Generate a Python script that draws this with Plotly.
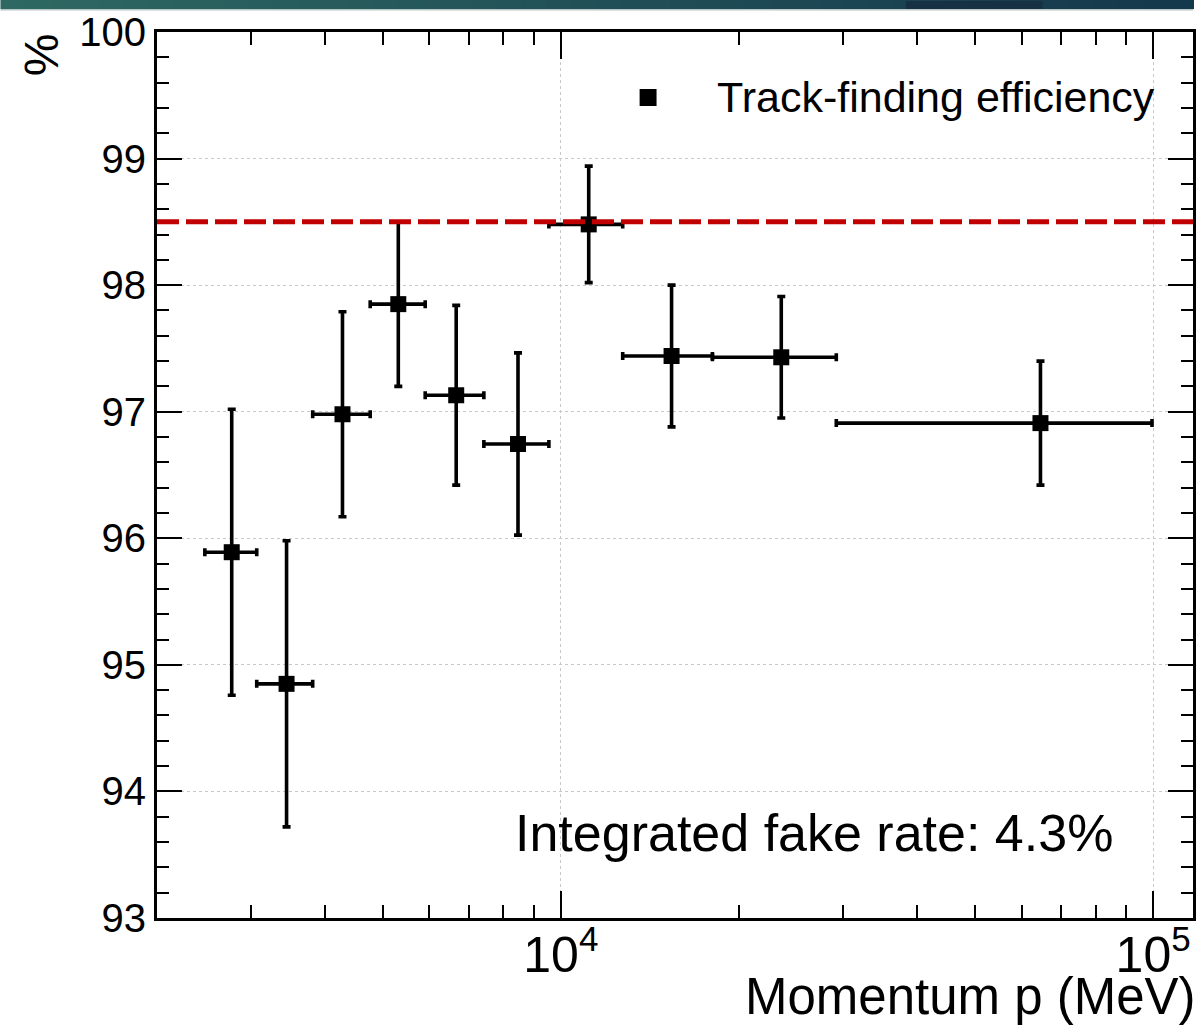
import plotly.graph_objects as go

# ---- data ----
momentum = [2782, 3443, 4279, 5316, 6658, 8466, 11145, 15380, 23560, 64530]
bin_low = [2506, 3066, 3811, 4766, 5902, 7414, 9546, 12719, 18028, 29178]
bin_high = [3066, 3811, 4766, 5902, 7414, 9546, 12719, 18028, 29178, 99560]
efficiency = [95.89, 94.85, 96.98, 97.85, 97.13, 96.745, 98.48, 97.44, 97.43, 96.91]
eff_err = [1.13, 1.13, 0.81, 0.65, 0.71, 0.72, 0.46, 0.56, 0.48, 0.49]
reference_level = 98.5
legend_label = "Track-finding efficiency"
note_text = "Integrated fake rate: 4.3%"
x_title = "Momentum p (MeV)"
y_title = "%"

FONT = "Liberation Sans, Arial, Helvetica, sans-serif"
W, H = 1196, 1027
ML, MR, MT, MB = 157, 0, 32, 109
PW, PH = W - ML - MR, H - MT - MB


def px_x(px):
    return (px - ML) / PW


def px_y(py):
    return (H - MB - py) / PH


err_minus = [m - lo for m, lo in zip(momentum, bin_low)]
err_plus = [hi - m for m, hi in zip(momentum, bin_high)]

fig = go.Figure()
fig.add_trace(go.Scatter(
    x=momentum, y=efficiency, mode="markers",
    marker=dict(symbol="square", size=16, color="black"),
    error_y=dict(type="data", array=eff_err, color="black", thickness=3.6, width=4),
    error_x=dict(type="data", array=err_plus, arrayminus=err_minus,
                 color="black", thickness=3.6, width=4),
    showlegend=False, cliponaxis=False,
))

shapes = []
# reference dashed line
shapes.append(dict(type="line", xref="paper", yref="y", x0=0, x1=1,
                   y0=reference_level, y1=reference_level,
                   line=dict(color="#c00000", width=5, dash="22px,7px"), layer="above"))

# top banner gradient (decoration)
n = 48
c0 = (46, 104, 98)
c1 = (20, 56, 76)
for i in range(n):
    t = i / (n - 1)
    col = tuple(int(round(a + (b - a) * t)) for a, b in zip(c0, c1))
    shapes.append(dict(type="rect", xref="paper", yref="paper",
                       x0=px_x(i * W / n), x1=px_x((i + 1) * W / n + 1),
                       y0=px_y(9), y1=px_y(0), line=dict(width=0),
                       fillcolor="rgb(%d,%d,%d)" % col, layer="above"))
shapes.append(dict(type="rect", xref="paper", yref="paper",
                   x0=px_x(908), x1=px_x(1045), y0=px_y(9), y1=px_y(1),
                   line=dict(width=0), fillcolor="rgb(22,50,66)", layer="above"))
shapes.append(dict(type="rect", xref="paper", yref="paper",
                   x0=px_x(0), x1=px_x(W), y0=px_y(10.5), y1=px_y(9),
                   line=dict(width=0), fillcolor="#b9c6c6", layer="above"))

# legend marker
shapes.append(dict(type="rect", xref="paper", yref="paper",
                   x0=px_x(641), x1=px_x(658), y0=px_y(106), y1=px_y(89),
                   line=dict(width=0), fillcolor="black"))

annotations = [
    dict(text=legend_label, xref="paper", yref="paper", x=px_x(717), y=px_y(97),
         xanchor="left", yanchor="middle", showarrow=False,
         font=dict(family=FONT, size=43, color="black")),
    dict(text=note_text, xref="paper", yref="paper", x=px_x(514), y=px_y(833),
         xanchor="left", yanchor="middle", showarrow=False,
         font=dict(family=FONT, size=52, color="black")),
    dict(text=x_title, xref="paper", yref="paper", x=px_x(745), y=px_y(997),
         xanchor="left", yanchor="middle", showarrow=False,
         font=dict(family=FONT, size=51, color="black")),
    dict(text=y_title, xref="paper", yref="paper", x=px_x(42), y=px_y(55),
         xanchor="center", yanchor="middle", showarrow=False, textangle=-90,
         font=dict(family=FONT, size=48, color="black")),
]

fig.update_layout(
    width=W, height=H,
    margin=dict(l=ML, r=MR, t=MT, b=MB, pad=0),
    paper_bgcolor="white", plot_bgcolor="white",
    font=dict(family=FONT, size=40, color="black"),
    shapes=shapes, annotations=annotations,
    xaxis=dict(
        type="log", range=[3.3182, 5.0673], dtick=1, exponentformat="power",
        showline=True, linecolor="black", linewidth=3, mirror="ticks",
        ticks="inside", ticklen=27, tickwidth=2, tickcolor="black",
        ticklabelstandoff=-7,
        showgrid=True, gridcolor="#c8c8c8", gridwidth=1.2, griddash="dot",
        zeroline=False,
        minor=dict(ticks="inside", ticklen=13, tickwidth=1.5, tickcolor="black",
                   dtick="D1", showgrid=False),
        tickfont=dict(family=FONT, size=40, color="black"),
    ),
    yaxis=dict(
        range=[93, 100], dtick=1,
        showline=True, linecolor="black", linewidth=3, mirror="ticks",
        ticks="inside", ticklen=25, tickwidth=2, tickcolor="black",
        showgrid=True, gridcolor="#c8c8c8", gridwidth=1.2, griddash="dot",
        zeroline=False,
        minor=dict(ticks="inside", ticklen=12, tickwidth=1.5, tickcolor="black",
                   dtick=0.2, showgrid=False),
        tickfont=dict(family=FONT, size=40, color="black"),
    ),
)

fig.write_html("out.html")
